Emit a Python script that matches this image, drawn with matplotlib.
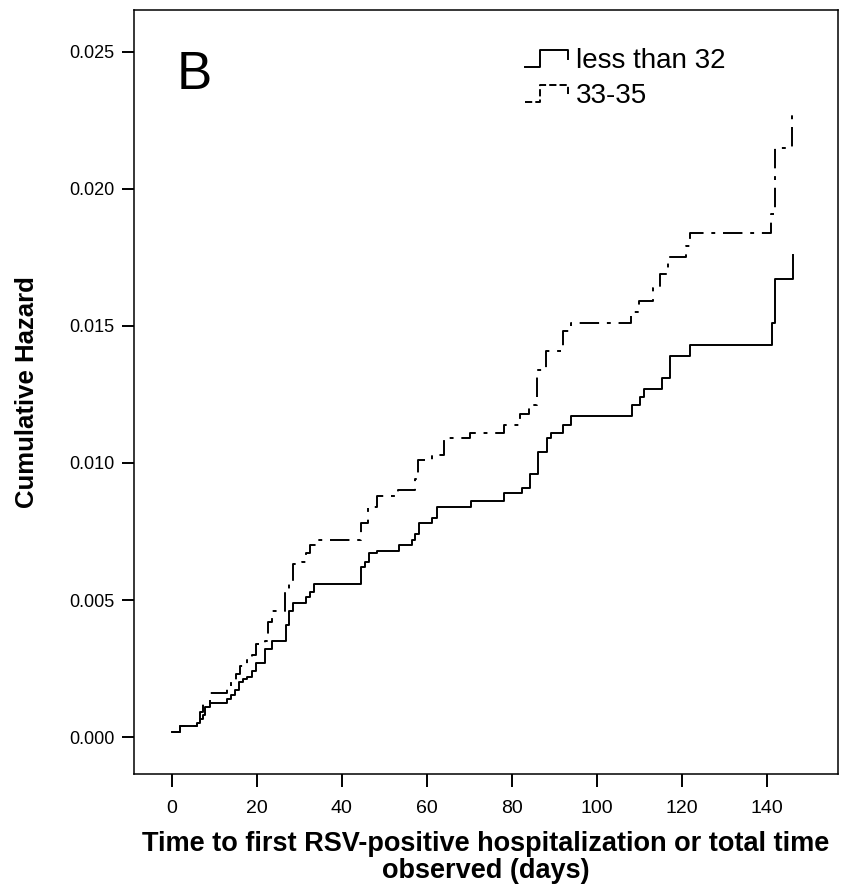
import numpy as np
import matplotlib
matplotlib.use("Agg")
import matplotlib.pyplot as plt
from matplotlib.legend_handler import HandlerBase
from matplotlib.lines import Line2D

plt.rcParams['font.family'] = ['Liberation Sans', 'DejaVu Sans']

# step data: (day, cumulative hazard after the step)
t_lt32 = [0, 2.0, 5.8, 6.6, 7.4, 7.9, 8.9, 12.9, 14.0, 14.8, 15.8, 16.8, 17.7,
          18.8, 19.9, 21.9, 23.6, 26.8, 27.5, 28.5, 31.5, 32.5, 33.5, 44.4,
          45.4, 46.4, 48.3, 53.4, 56.4, 57.3, 58.2, 61.2, 62.3, 70.3, 78.1,
          82.3, 84.2, 86.2, 88.2, 89.1, 92.1, 94.0, 108.2, 110.1, 111.1,
          115.2, 117.2, 122.0, 141.1, 141.9, 146.0]
h_lt32 = [0.00017, 0.0004, 0.0005, 0.00065, 0.0008, 0.0011, 0.00125, 0.0014,
          0.00155, 0.0017, 0.0020, 0.0021, 0.0022, 0.0024, 0.0027, 0.0032,
          0.0035, 0.0041, 0.0046, 0.0049, 0.0051, 0.0053, 0.0056, 0.0062,
          0.0064, 0.0067, 0.0068, 0.0070, 0.0072, 0.0074, 0.0078, 0.0080,
          0.0084, 0.0086, 0.0089, 0.0091, 0.0096, 0.0104, 0.0109, 0.0111,
          0.0114, 0.0117, 0.0121, 0.0124, 0.0127, 0.0131, 0.0139, 0.0143,
          0.0151, 0.0167, 0.0176]

t_3335 = [0, 2.0, 5.8, 6.6, 7.4, 8.9, 12.9, 13.9, 15.0, 16.0, 17.7, 18.8,
          19.9, 21.9, 22.7, 23.6, 26.6, 27.5, 28.5, 30.5, 31.5, 32.5, 34.0,
          44.4, 46.2, 48.2, 53.2, 57.2, 57.9, 61.1, 64.0, 70.1, 78.1, 82.0,
          84.1, 86.0, 88.0, 91.9, 92.1, 94.0, 108.0, 110.0, 113.3, 114.8,
          116.8, 121.0, 121.9, 140.9, 141.9, 145.8]
h_3335 = [0.00017, 0.0004, 0.0006, 0.0009, 0.0012, 0.0016, 0.0018, 0.0020,
          0.0023, 0.0026, 0.0028, 0.0030, 0.0034, 0.0035, 0.0042, 0.0046,
          0.0053, 0.0057, 0.0063, 0.0064, 0.0067, 0.0070, 0.0072, 0.0078,
          0.0084, 0.0088, 0.0090, 0.0094, 0.0101, 0.0103, 0.0109, 0.0111,
          0.0114, 0.0118, 0.0121, 0.0134, 0.0141, 0.0145, 0.0148, 0.0151,
          0.0155, 0.0159, 0.0164, 0.0169, 0.0175, 0.0179, 0.0184, 0.0191,
          0.0215, 0.0228]

labels = ["less than 32", "33-35"]
xticks = [0, 20, 40, 60, 80, 100, 120, 140]
yticks = [0.000, 0.005, 0.010, 0.015, 0.020, 0.025]

dashdot = (0, (10, 4, 2, 4))


class StepHandler(HandlerBase):
    # legend handle drawn as a little step, like the original
    def create_artists(self, legend, orig_handle, xdescent, ydescent,
                       width, height, fontsize, trans):
        xs = np.array([0, 0.35, 0.35, 1, 1]) * width - xdescent
        ys = np.array([0.05, 0.05, 0.95, 0.95, 0.45]) * height - ydescent
        ln = Line2D(xs, ys, color=orig_handle.get_color(),
                    lw=orig_handle.get_linewidth(),
                    linestyle=orig_handle.get_linestyle())
        ln.set_transform(trans)
        return [ln]


fig = plt.figure(figsize=(8.45, 8.85), dpi=100)
ax = fig.add_axes([0.1586, 0.1254, 0.8331, 0.8633])

l1, = ax.plot(t_lt32, h_lt32, drawstyle='steps-post', color='black', lw=1.4)
l2, = ax.plot(t_3335, h_3335, drawstyle='steps-post', color='black', lw=1.4,
              linestyle=dashdot)

ax.set_xlim(-8.9, 156.7)
ax.set_ylim(-0.00135, 0.02653)
ax.set_xticks(xticks)
ax.set_xticklabels([str(v) for v in xticks], fontsize=14)
ax.set_yticks(yticks)
ax.set_yticklabels(["%.3f" % v for v in yticks], fontsize=13)
ax.tick_params(direction='out', length=9, width=1.4)
ax.tick_params(axis='x', pad=10)
ax.tick_params(axis='y', pad=5)
for s in ax.spines.values():
    s.set_linewidth(1.1)

ax.set_ylabel("Cumulative Hazard", fontsize=18.5, fontweight='bold', labelpad=22)
ax.set_xlabel("Time to first RSV-positive hospitalization or total time\nobserved (days)",
              fontsize=19.5, fontweight='bold', labelpad=10, linespacing=1.02)

ax.text(0.06, 0.948, "B", transform=ax.transAxes, fontsize=38,
        va='top', ha='left')

ax.legend([l1, l2], labels, handler_map={Line2D: StepHandler()},
          loc='upper left', bbox_to_anchor=(0.555, 0.950), frameon=False,
          borderpad=0, borderaxespad=0,
          fontsize=20, handlelength=1.55, handletextpad=0.3, labelspacing=0.33)

fig.savefig("out.png", dpi=100)
